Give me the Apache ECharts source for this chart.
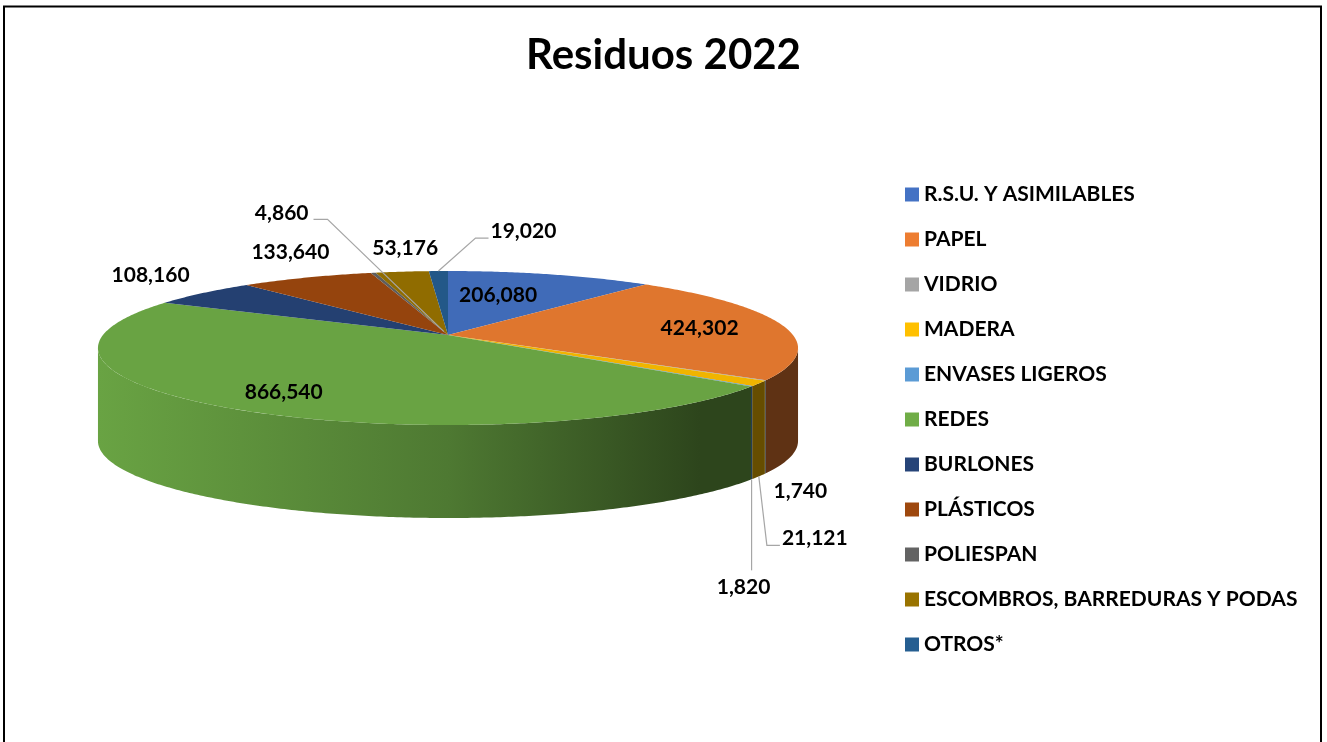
<!DOCTYPE html>
<html>
<head>
<meta charset="utf-8">
<script src="https://cdn.jsdelivr.net/npm/echarts@6/dist/echarts.min.js"></script>
<style>
html, body { margin: 0; padding: 0; background: #fff; }
#main { width: 1327px; height: 742px; }
</style>
</head>
<body>
<div id="main"></div>
<script>
var categories = ['R.S.U. Y ASIMILABLES', 'PAPEL', 'VIDRIO', 'MADERA', 'ENVASES LIGEROS', 'REDES',
    'BURLONES', 'PLÁSTICOS', 'POLIESPAN', 'ESCOMBROS, BARREDURAS Y PODAS', 'OTROS*'];
var values = [206080, 424302, 1740, 21121, 1820, 866540, 108160, 133640, 4860, 53176, 19020];
var colors = ['#4472C4', '#ED7D31', '#A5A5A5', '#FFC000', '#5B9BD5', '#70AD47',
    '#264478', '#9E480E', '#636363', '#997300', '#255E91'];

// where each value label sits: r = radius fraction, h = drop down the side wall,
// dx/dy = nudge from that point, line = leader line style
var labelLayout = [
    {r: 0.5, h: 0, dx: -5, dy: -7},
    {r: 0.75, h: 0, dx: 0, dy: 1},
    {r: 1, h: 93, dx: 35, dy: 18},
    {r: 1, h: 93, dx: 56, dy: 62, line: 'left'},
    {r: 1, h: 93, dx: -8, dy: 108, line: 'down'},
    {r: 0.78, h: 0, dx: 0, dy: 2},
    {r: 1, h: 0, dx: -52, dy: -18},
    {r: 1, h: 0, dx: -16, dy: -25},
    {r: 0.05, h: 0, dx: -162, dy: -118, line: 'right'},
    {r: 1, h: 0, dx: 3, dy: -23},
    {r: 1, h: 0, dx: 85, dy: -40, line: 'left'}
];

// tilted disc with a little perspective
var pie = {cx: 448, cy: 335, a: 345, b: 74.8, s: 0.169, depth: 93};
var labelFont = 'bold 21px Lato';

var total = values.reduce(function (p, v) { return p + v; }, 0);

function proj(theta, r, h) {
    var u = r * Math.sin(theta), v = -r * Math.cos(theta);
    var d = 1 - pie.s * v;
    return [pie.cx + pie.a * u / d, pie.cy + pie.b * v / d + h];
}

function shade(hex, k) {
    var n = parseInt(hex.slice(1), 16);
    var r = Math.round(((n >> 16) & 255) * k), g = Math.round(((n >> 8) & 255) * k), b = Math.round((n & 255) * k);
    return 'rgb(' + r + ',' + g + ',' + b + ')';
}

var ctx = document.createElement('canvas').getContext('2d');
ctx.font = labelFont;

function renderItem(params, api) {
    var i = params.dataIndex;
    var before = 0;
    for (var k = 0; k < i; k++) before += values[k];
    var a0 = before / total * Math.PI * 2;
    var a1 = (before + values[i]) / total * Math.PI * 2;
    var children = [];

    // top face
    var pts = [proj(0, 0, 0)];
    var n = Math.max(2, Math.ceil((a1 - a0) / 0.01));
    for (var j = 0; j <= n; j++) pts.push(proj(a0 + (a1 - a0) * j / n, 1, 0));
    children.push({type: 'polygon', z2: 10, shape: {points: pts}, style: {fill: shade(colors[i], 0.94)}});

    // front wall
    var vis0 = Math.acos(-pie.s), vis1 = Math.PI * 2 - vis0;
    var s0 = Math.max(a0, vis0), s1 = Math.min(a1, vis1);
    if (s1 > s0) {
        var m = Math.max(2, Math.ceil((s1 - s0) / 0.01));
        var topArc = [], botArc = [];
        for (var q = 0; q <= m; q++) {
            var t = s0 + (s1 - s0) * q / m;
            topArc.push(proj(t, 1, 0));
            botArc.push(proj(t, 1, pie.depth));
        }
        var x0 = pie.cx - 350, x1 = pie.cx + 350;
        children.push({
            type: 'polygon', z2: 5,
            shape: {points: topArc.concat(botArc.reverse())},
            style: {
                fill: new echarts.graphic.LinearGradient(x0, 0, x1, 0, [
                    {offset: 0, color: shade(colors[i], 0.94)},
                    {offset: 0.5, color: shade(colors[i], 0.70)},
                    {offset: 0.86, color: shade(colors[i], 0.40)},
                    {offset: 1, color: shade(colors[i], 0.40)}
                ], true)
            }
        });
    }

    // value label
    var lay = labelLayout[i];
    var mid = (a0 + a1) / 2;
    var start = proj(mid, lay.r, lay.h);
    var lx = start[0] + lay.dx, ly = start[1] + lay.dy;
    var txt = values[i].toLocaleString('en-US');
    var w = ctx.measureText(txt).width;
    children.push({
        type: 'text', z2: 30, x: lx, y: ly,
        style: {text: txt, font: labelFont, fill: '#000', align: 'center', verticalAlign: 'middle'}
    });
    var line = null;
    if (lay.line === 'left') {
        var e = [lx - w / 2 - 2, ly + 7];
        line = [start, [e[0] - 13, e[1]], e];
    } else if (lay.line === 'right') {
        var e2 = [lx + w / 2 + 5, ly + 6];
        line = [start, [e2[0] + 14, e2[1]], e2];
    } else if (lay.line === 'down') {
        line = [start, [start[0], ly - 17]];
    }
    if (line) {
        children.push({type: 'polyline', z2: 25, shape: {points: line},
            style: {stroke: '#a6a6a6', lineWidth: 1.2, fill: null}});
    }
    return {type: 'group', children: children};
}

var myChart = echarts.init(document.getElementById('main'));

var option = {
    backgroundColor: '#fff',
    color: colors,
    animation: false,
    title: {
        text: 'Residuos 2022',
        left: 'center',
        top: 34,
        padding: 0,
        textStyle: {fontFamily: 'Lato', fontWeight: 'bold', fontSize: 42, color: '#000'}
    },
    legend: {
        orient: 'vertical',
        left: 905,
        top: 184,
        padding: 0,
        itemWidth: 14,
        itemHeight: 14,
        itemGap: 24,
        icon: 'rect',
        data: categories,
        textStyle: {fontFamily: 'Lato', fontWeight: 'bold', fontSize: 21, lineHeight: 21, color: '#000'}
    },
    graphic: [{
        type: 'rect',
        shape: {x: 4, y: 6.5, width: 1317, height: 800},
        style: {fill: 'none', stroke: '#000', lineWidth: 2},
        silent: true
    }],
    series: [
        {
            // only feeds the legend
            type: 'pie',
            radius: [0, 0],
            center: [pie.cx, pie.cy],
            silent: true,
            label: {show: false},
            labelLine: {show: false},
            data: categories.map(function (c, i) { return {name: c, value: values[i]}; })
        },
        {
            name: 'Residuos 2022',
            type: 'custom',
            coordinateSystem: 'none',
            renderItem: renderItem,
            data: values
        }
    ]
};

myChart.setOption(option);
</script>
</body>
</html>
